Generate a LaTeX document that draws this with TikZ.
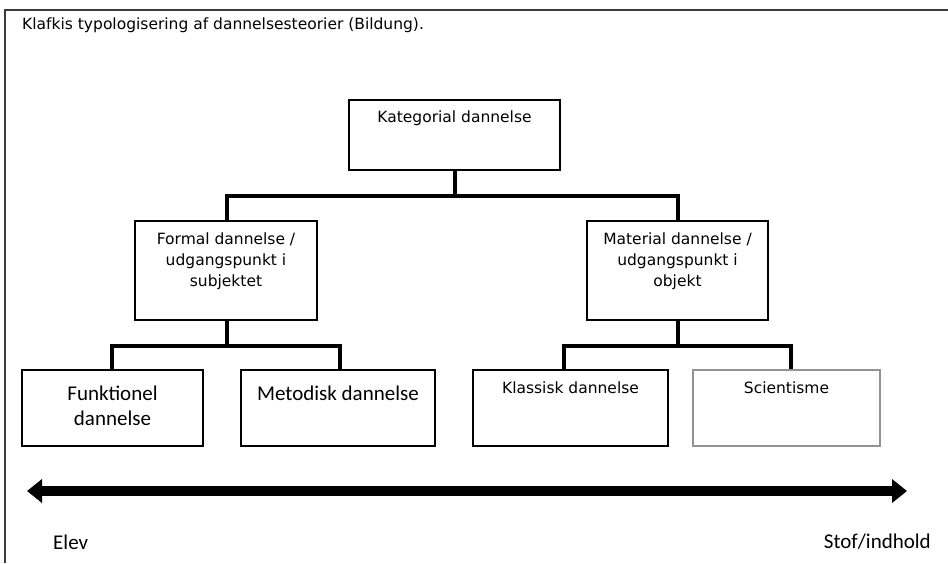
\documentclass[tikz,border=0pt]{standalone}
\usepackage{fontspec}
\setmainfont{DejaVu Sans}
\newfontfamily\calfont{Carlito}
\usetikzlibrary{arrows.meta,positioning}
\definecolor{framegray}{RGB}{60,60,60}
\tikzset{
  box/.style={draw=black, line width=1.3pt, rectangle, inner sep=0pt},
  graybox/.style={draw=gray!85, line width=1.3pt, rectangle, inner sep=0pt},
  conn/.style={draw=black, line width=4pt, line join=miter, line cap=butt},
  tahoma/.style={inner sep=0pt, align=center, font=\fontsize{15.5}{21}\selectfont},
  calib/.style={inner sep=0pt, align=center, font=\calfont\fontsize{21}{25}\selectfont},
  bigarrow/.style={line width=10pt, {Triangle[width=23pt,length=15pt]}-{Triangle[width=23pt,length=15pt]}},
}
\begin{document}
\begin{tikzpicture}[x=1pt,y=-1pt]
\useasboundingbox (0,0) rectangle (948,563);
% frame
\draw[framegray, line width=1.5pt] (948,10) -- (5,10) -- (5,563);
% title
\node[tahoma, anchor=west] (title) at (22,25) {Klafkis typologisering af dannelsesteorier (Bildung).};
% boxes
\node[box, minimum width=211pt, minimum height=70pt] (kat) at (454.5,135) {};
\node[box, minimum width=182pt, minimum height=99pt] (formal) at (226,270.5) {};
\node[box, minimum width=181pt, minimum height=99pt] (material) at (677.5,270.5) {};
\node[box, minimum width=181pt, minimum height=76pt] (funk) at (112.5,408) {};
\node[box, minimum width=194pt, minimum height=76pt] (metod) at (338,408) {};
\node[box, minimum width=195pt, minimum height=76pt] (klass) at (570.5,408) {};
\node[graybox, minimum width=187pt, minimum height=76pt] (sci) at (786.5,408) {};
% texts
\node[tahoma] (katt) at (454.5,118) {Kategorial dannelse};
\node[tahoma] (formalt) at (226,261) {Formal dannelse /\\udgangspunkt i\\subjektet};
\node[tahoma] (materialt) at (677.5,261) {Material dannelse /\\udgangspunkt i\\objekt};
\node[calib] (funkt) at (112.5,406) {Funktionel\\dannelse};
\node[calib] (metodt) at (338,393) {Metodisk dannelse};
\node[tahoma] (klasst) at (570.5,388) {Klassisk dannelse};
\node[tahoma] (scit) at (786.5,388) {Scientisme};
% connectors
\draw[conn] (kat.south) -- ++(0,25) coordinate (kb);
\draw[conn] ([xshift=1pt]formal.north) |- (kb) -| (material.north);
\draw[conn] ([xshift=1pt]formal.south) -- ++(0,25) coordinate (fb);
\draw[conn] ([xshift=-0.5pt]funk.north) |- (fb) -| ([xshift=2pt]metod.north);
\draw[conn] (material.south) -- ++(0,25) coordinate (mb);
\draw[conn] ([xshift=-6.5pt]klass.north) |- (mb) -| ([xshift=4.5pt]sci.north);
% arrow
\coordinate (al) at (27,491);
\coordinate (ar) at (907,491);
\draw[bigarrow] (al) -- (ar);
\node[calib, anchor=west] (elev) at (53,542) {Elev};
\node[calib, anchor=east] (stof) at (931,542) {Stof/indhold};
\end{tikzpicture}
\end{document}
